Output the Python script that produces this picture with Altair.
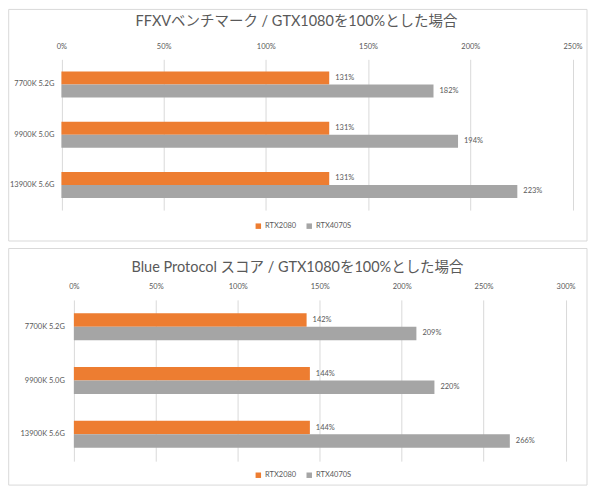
import altair as alt
import pandas as pd

cpus = ["7700K 5.2G", "9900K 5.0G", "13900K 5.6G"]
series = ["RTX2080", "RTX4070S"]
colors = ["#ED7D31", "#A5A5A5"]

ffxv_rtx2080 = [1.31, 1.31, 1.31]
ffxv_rtx4070s = [1.82, 1.94, 2.23]
bp_rtx2080 = [1.42, 1.44, 1.44]
bp_rtx4070s = [2.09, 2.20, 2.66]

ffxv_ticks = [0, 0.5, 1.0, 1.5, 2.0, 2.5]
bp_ticks = [0, 0.5, 1.0, 1.5, 2.0, 2.5, 3.0]

title_ffxv = "FFXVベンチマーク / GTX1080を100%とした場合"
title_bp = "Blue Protocol スコア / GTX1080を100%とした場合"

GREY = "#595959"
FONT = "Lato, Noto Sans CJK JP, sans-serif"
TITLE_FONT = "Lato, Noto Sans CJK JP, sans-serif"
SMALL = 7.5


def frame(a, b):
    rows = []
    for i, c in enumerate(cpus):
        rows.append({"cpu": c, "gpu": series[0], "v": a[i]})
        rows.append({"cpu": c, "gpu": series[1], "v": b[i]})
    return pd.DataFrame(rows)


def panel(df, ticks, title, W, H, xrange, pad_inner, ylab_pad, box, leg, title_xy):
    x = alt.X(
        "v:Q",
        scale=alt.Scale(domain=[ticks[0], ticks[-1]], nice=False, zero=True, range=xrange),
        axis=alt.Axis(
            orient="top", values=ticks, format=".0%", title=None, grid=True,
            gridColor="#d9d9d9", domain=False, ticks=False, tickSize=0,
            labelFlush=False, labelPadding=9, labelFontSize=SMALL,
            labelColor=GREY, labelFont=FONT,
        ),
    )
    y = alt.Y(
        "cpu:N", sort=cpus,
        scale=alt.Scale(paddingInner=pad_inner, paddingOuter=pad_inner / 2),
        axis=alt.Axis(
            title=None, domain=False, ticks=False, tickSize=0, labelPadding=ylab_pad,
            labelFontSize=SMALL, labelColor=GREY, labelFont=FONT,
        ),
    )
    yo = alt.YOffset("gpu:N", sort=series)
    color = alt.Color(
        "gpu:N", sort=series,
        scale=alt.Scale(domain=series, range=colors),
        legend=alt.Legend(
            title=None, orient="none", legendX=leg[0], legendY=leg[1],
            direction="horizontal", symbolType="square", symbolSize=30,
            symbolStrokeWidth=0, labelFontSize=SMALL, labelColor=GREY,
            labelFont=FONT, columnPadding=9, labelOffset=3,
        ),
    )
    base = alt.Chart(df)
    one = alt.Chart(pd.DataFrame({"k": [0]}))
    frame_rect = one.mark_rect(
        fill="#ffffff", fillOpacity=0, stroke="#d9d9d9", strokeWidth=1
    ).encode(
        x=alt.value(box[0]), x2=alt.value(box[1]),
        y=alt.value(box[2]), y2=alt.value(box[3]),
    )
    title_text = one.mark_text(
        text=title, align="center", baseline="middle", fontSize=14.5,
        font=TITLE_FONT, color=GREY,
    ).encode(x=alt.value(title_xy[0]), y=alt.value(title_xy[1]))
    bars = base.mark_bar().encode(x=x, y=y, yOffset=yo, color=color)
    labels = base.mark_text(
        align="left", baseline="middle", dx=6, fontSize=SMALL, color=GREY, font=FONT
    ).encode(
        x="v:Q", y=alt.Y("cpu:N", sort=cpus), yOffset=yo,
        text=alt.Text("v:Q", format=".0%"),
    )
    return alt.layer(frame_rect, title_text, bars, labels).properties(width=W, height=H)


top = panel(frame(ffxv_rtx2080, ffxv_rtx4070s), ffxv_ticks, title_ffxv,
            500, 151, [-12.5, 499.5], 0.48, 20,
            (-65.3, 514, -50, 182), (181, 163), (223, -37))
bottom = panel(frame(bp_rtx2080, bp_rtx4070s), bp_ticks, title_bp,
               492.5, 161.5, [0, 492.5], 0.5, 9.5,
               (-65.3, 514, -51.5, 185.5), (181, 171.5), (224, -32))

chart = alt.concat(top, bottom, columns=1, spacing=6, align="none").resolve_scale(
    x="independent", y="independent", yOffset="independent", color="independent"
).resolve_legend(color="independent").properties(padding=0).configure_view(stroke=None)

chart.save("out.html", embed_options={"renderer": "svg", "actions": False})
